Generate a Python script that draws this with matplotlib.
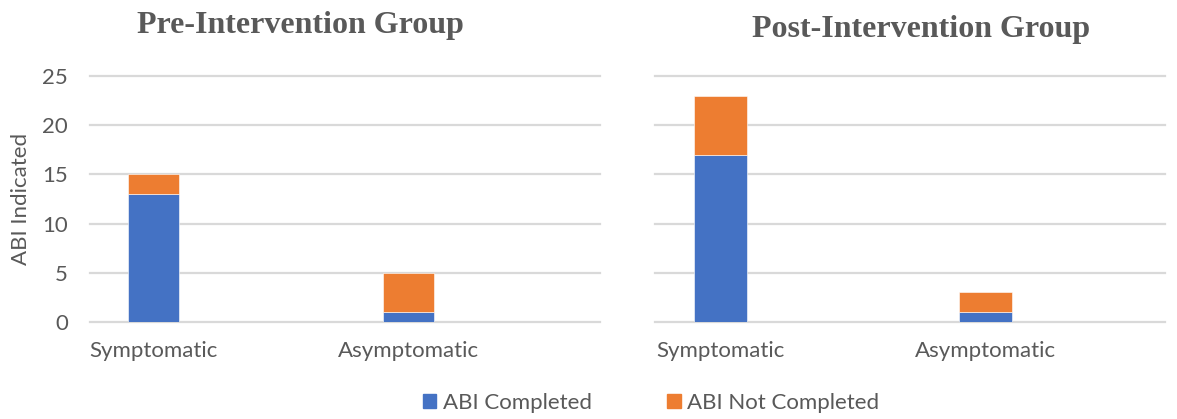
import matplotlib
matplotlib.use('Agg')
import matplotlib.pyplot as plt
from matplotlib.patches import Patch

plt.rcParams['font.family'] = ['Lato', 'DejaVu Sans']

categories = ['Symptomatic', 'Asymptomatic']
pre_completed = [13, 1]
pre_not_completed = [2, 4]
post_completed = [17, 1]
post_not_completed = [6, 2]
series_names = ['ABI Completed', 'ABI Not Completed']
yticks = [0, 5, 10, 15, 20, 25]

blue = '#4472C4'
orange = '#ED7D31'
grey_text = '#595959'
grid_col = '#D9D9D9'

fig = plt.figure(figsize=(11.77, 4.19), dpi=100)
ax1 = fig.add_axes([90 / 1177, 97 / 419, 510 / 1177, 246 / 419])
ax2 = fig.add_axes([655 / 1177, 97 / 419, 510 / 1177, 246 / 419])


def draw_panel(ax, done, not_done, xlim, show_y):
    x = range(len(categories))
    ax.bar(x, done, width=0.2, color=blue, edgecolor='white', linewidth=0.4, zorder=3)
    ax.bar(x, not_done, width=0.2, bottom=done, color=orange,
           edgecolor='white', linewidth=0.4, zorder=3)
    ax.set_ylim(0, 25)
    ax.set_xlim(*xlim)
    ax.set_yticks(yticks)
    ax.set_xticks(list(x))
    ax.set_xticklabels(categories)
    for s in ax.spines.values():
        s.set_visible(False)
    ax.yaxis.grid(True, color=grid_col, linewidth=1.6, zorder=0)
    for gl in ax.get_ygridlines():
        gl.set_clip_on(False)
    ax.tick_params(axis='both', length=0, labelsize=16, colors=grey_text)
    ax.tick_params(axis='x', pad=14)
    ax.tick_params(axis='y', pad=16)
    if not show_y:
        ax.set_yticklabels([])


draw_panel(ax1, pre_completed, pre_not_completed, (-0.25, 1.75), True)
draw_panel(ax2, post_completed, post_not_completed, (-0.246, 1.677), False)

ax1.set_ylabel('ABI Indicated', fontsize=16, color=grey_text, labelpad=8)

fig.text(300 / 1177, 1 - 26 / 419, 'Pre-Intervention Group', ha='center', va='center',
         fontsize=23, fontweight='bold', color=grey_text, family='Liberation Serif')
fig.text(921 / 1177, 1 - 29 / 419, 'Post-Intervention Group', ha='center', va='center',
         fontsize=23, fontweight='bold', color=grey_text, family='Liberation Serif')

handles = [Patch(color=blue), Patch(color=orange)]
fig.legend(handles, series_names, loc='center', bbox_to_anchor=(651 / 1177, 1 - 403 / 419),
           ncol=2, frameon=False, fontsize=16, labelcolor=grey_text,
           handlelength=0.6, handleheight=0.6, handletextpad=0.3, columnspacing=3.4)

fig.savefig('out.png', dpi=100)
